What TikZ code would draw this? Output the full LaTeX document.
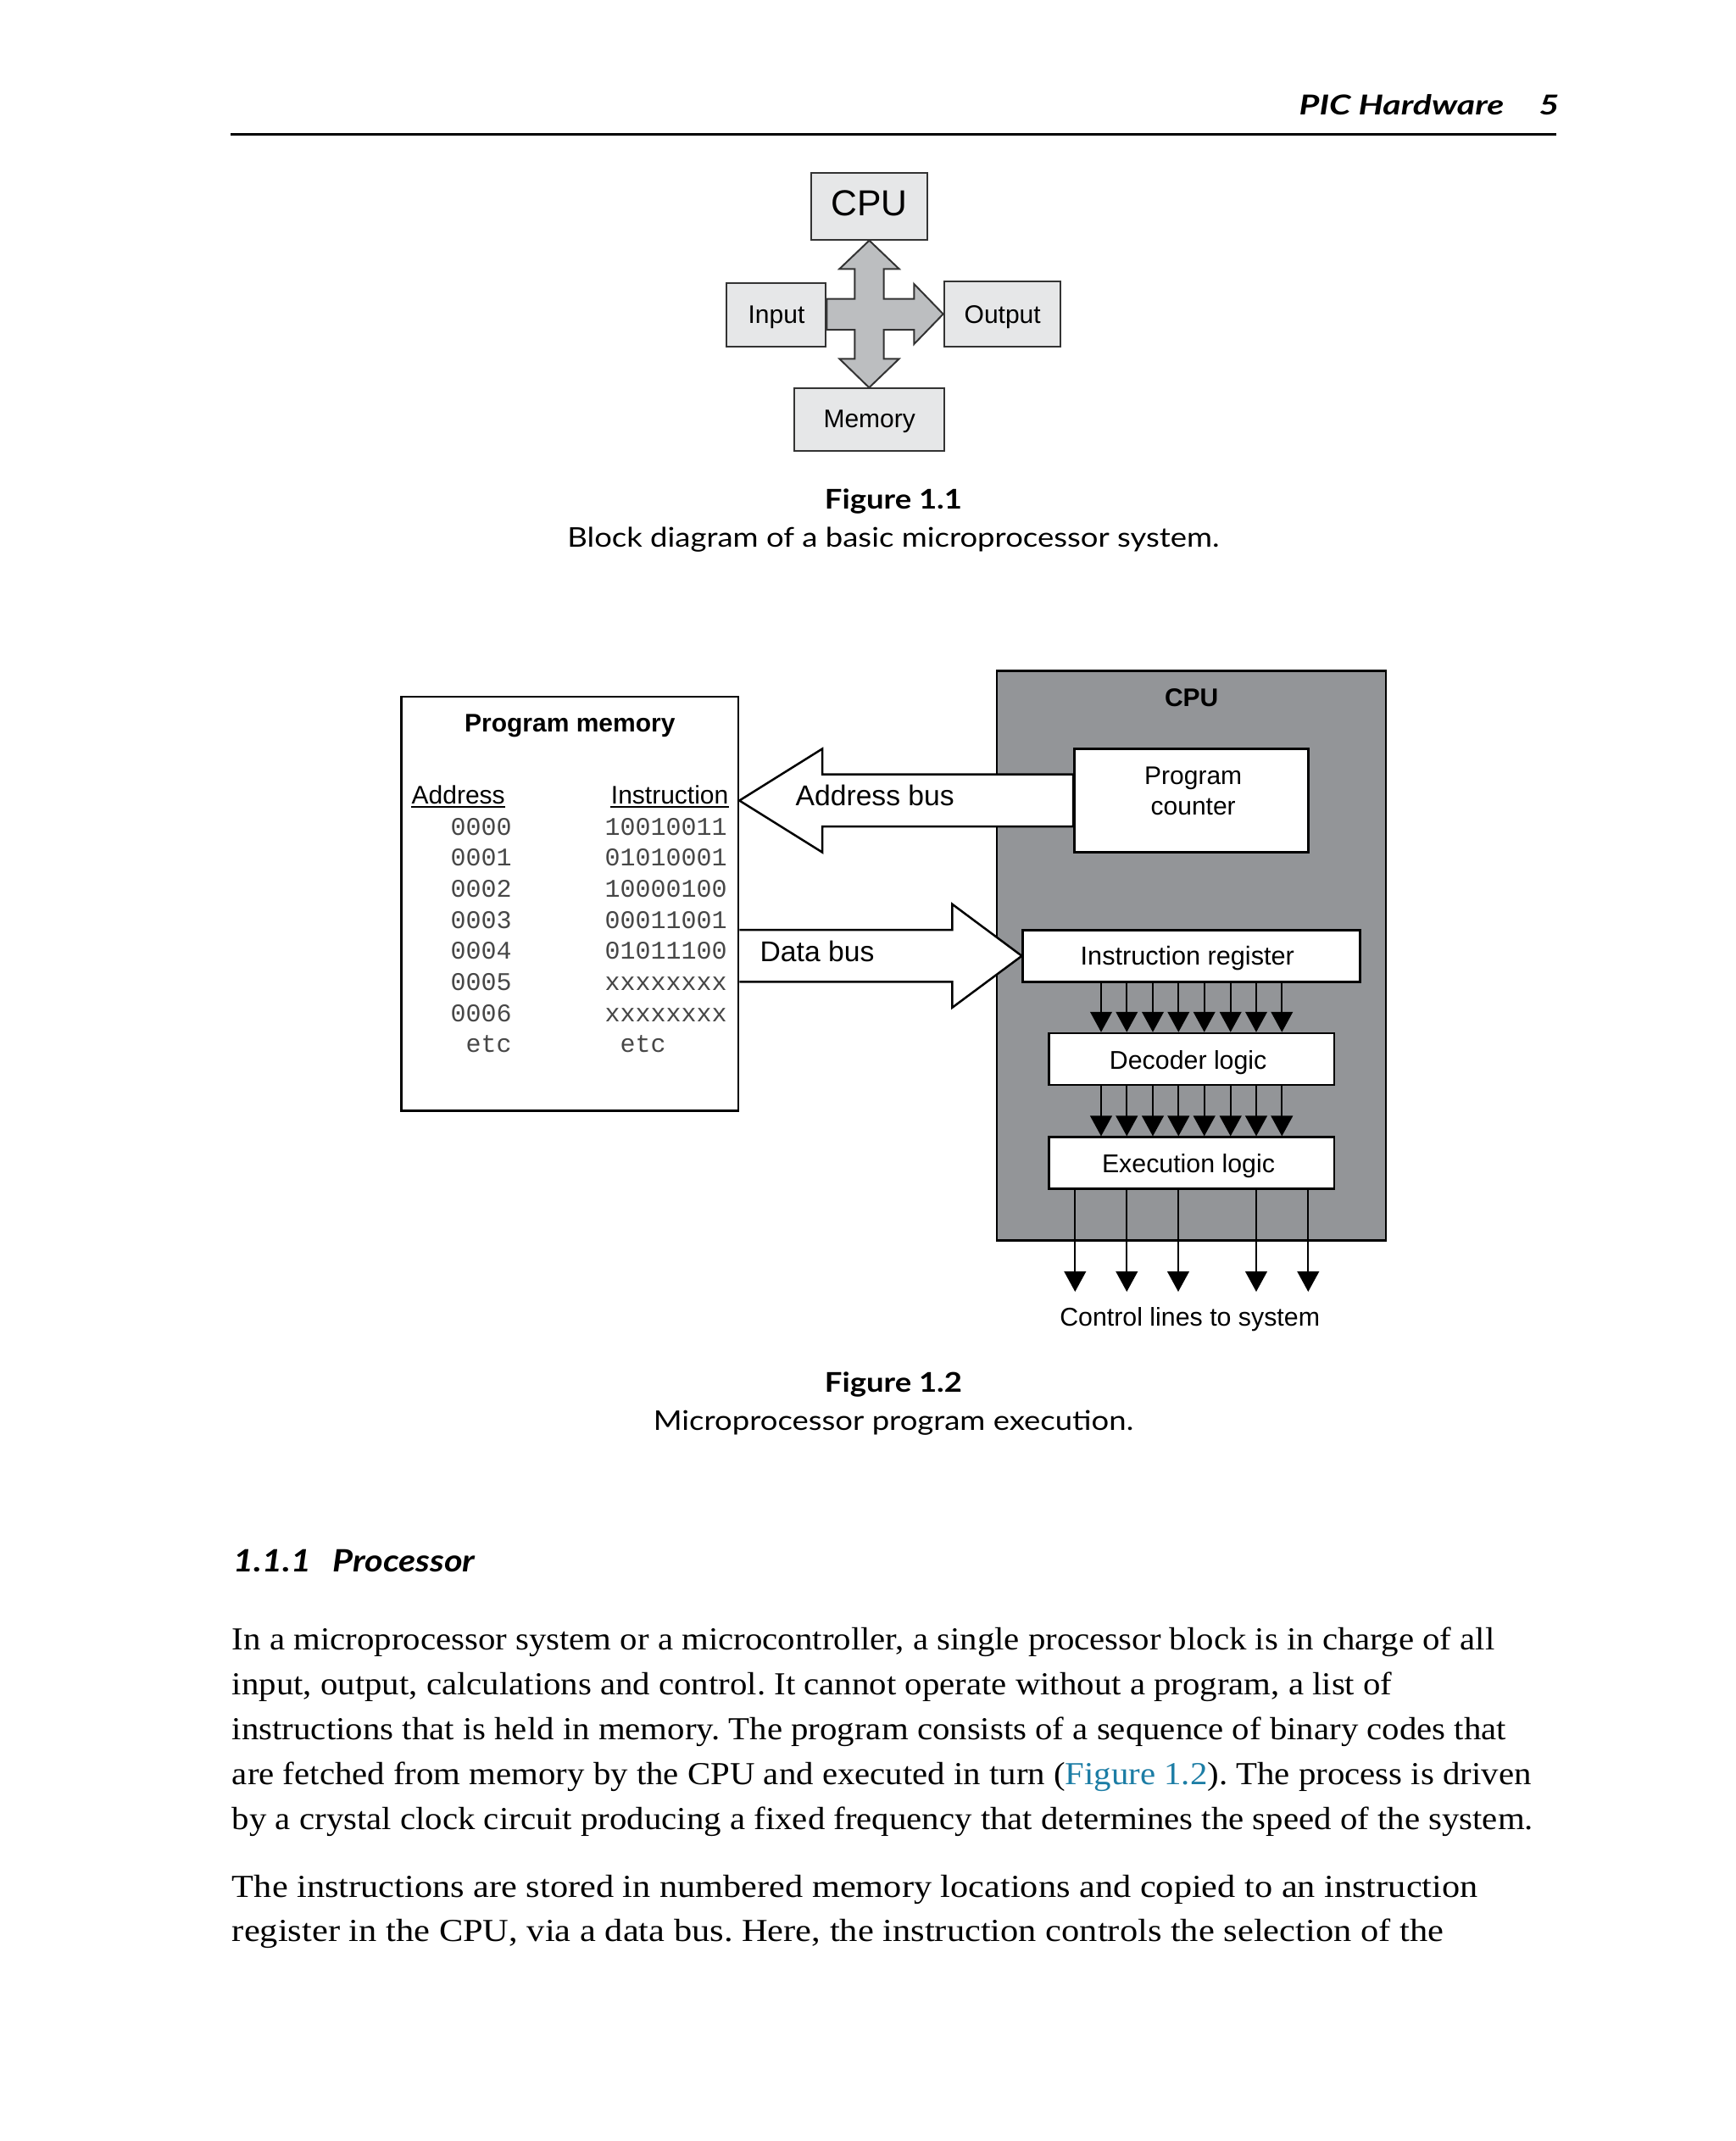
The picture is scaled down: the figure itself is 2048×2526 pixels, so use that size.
\documentclass[tikz,border=0pt]{standalone}
\usepackage{fontspec}
\usepackage{graphicx}
\setmainfont[FakeStretch=1.08]{Liberation Serif}
\newfontfamily\diag{Liberation Sans}
\newfontfamily\monof{Liberation Mono}
\newfontfamily\gill[FakeStretch=1.14]{Lato}
\newfontfamily\gillhdr[FakeStretch=1.27]{Lato}
\usetikzlibrary{arrows.meta,calc}
\definecolor{boxgray}{HTML}{E6E7E8}
\definecolor{crossgray}{HTML}{BCBEC0}
\definecolor{cpugray}{HTML}{939598}
\definecolor{linkblue}{RGB}{28,125,165}
\newcommand\myfs[1]{\fontsize{#1pt}{#1pt}\selectfont}
\newcommand\pxu{0.3pt}
\frenchspacing
\begin{document}
\begin{tikzpicture}[x=0.3pt,y=-0.3pt,
  lbl/.style={inner sep=0pt, font=\diag\myfs{9}},
  buslbl/.style={inner sep=0pt, anchor=base west, font=\diag\myfs{10.1}},
  f1box/.style={draw=black!80, fill=boxgray, line width=0.6pt, inner sep=0pt},
  f2box/.style={draw=black, fill=white, line width=0.75pt, inner sep=0pt},
  busarrow/.style={draw=black, fill=white, line width=0.75pt, line join=miter},
  sig/.style={line width=0.6pt, -{Triangle[length=7.2pt,width=7.7pt]}},
  mono/.style={inner sep=0pt, anchor=base west, text=black!72, font=\monof\myfs{9}},
  body/.style={inner sep=0pt, anchor=base west, font=\myfs{11.34}},
  ]
\useasboundingbox (0,0) rectangle (2048,2526);
\fill[white] (0,0) rectangle (2048,2526);

% header
\node[inner sep=0pt, anchor=base west, font=\gillhdr\bfseries\itshape\myfs{9.7}] (hdr) at (1532,135.7) {PIC Hardware};
\node[inner sep=0pt, anchor=base west, font=\gillhdr\bfseries\itshape\myfs{9.7}] (pgno) at (1815,135.7) {5};
\draw[line width=0.85pt] (272,158.5) -- (1836,158.5);

% Figure 1.1
\node[f1box, minimum width=137.6*\pxu, minimum height=78.4*\pxu] (cpu1) at (1025.5,243.5) {};
\node[f1box, minimum width=117.6*\pxu, minimum height=75*\pxu] (in1) at (915.5,371.5) {};
\node[f1box, minimum width=137.6*\pxu, minimum height=77*\pxu] (out1) at (1182.5,370.5) {};
\node[f1box, minimum width=176.7*\pxu, minimum height=73.4*\pxu] (mem1) at (1025.3,495) {};
\filldraw[fill=crossgray, draw=black!80, line width=0.6pt, line join=miter]
  (cpu1.south) -- (1060.7,317.3) -- (1042.7,317.3) -- (1042.7,352.7) -- (1078.3,352.7)
  -- (1078.3,335) -- (out1.west) -- (1078.3,406) -- (1078.3,389) -- (1042.7,389)
  -- (1042.7,423.3) -- (1060.7,423.3) -- (mem1.north) -- (990.3,423.3) -- (1008.3,423.3)
  -- (1008.3,389) -- (in1.east |- 0,389) -- (in1.east |- 0,352.7) -- (1008.3,352.7)
  -- (1008.3,317.3) -- (990.3,317.3) -- cycle;
\node[lbl, anchor=base, font=\diag\myfs{12.8}] (cpu1t) at (1025.7,254) {CPU};
\node[lbl, anchor=base] (in1t) at (916,381) {Input};
\node[lbl, anchor=base] (out1t) at (1182.7,381) {Output};
\node[lbl, anchor=base] (mem1t) at (1025.7,504.3) {Memory};

\node[inner sep=0pt, anchor=base, font=\gill\bfseries\myfs{9.6}] (cap1a) at (1054,600) {Figure 1.1};
\node[inner sep=0pt, anchor=base, font=\gill\myfs{9.6}] (cap1b) at (1054,645) {Block diagram of a basic microprocessor system.};

% Figure 1.2
\node[f2box, minimum width=397.7*\pxu, minimum height=488.7*\pxu] (pm) at (672.2,1066.3) {};
\node[draw=black, fill=cpugray, line width=0.75pt, inner sep=0pt, minimum width=459*\pxu, minimum height=671.6*\pxu] (cpu) at (1405.5,1127.5) {};
\node[f2box, minimum width=276*\pxu, minimum height=122.4*\pxu] (pc) at (1405.3,944.5) {};
\node[f2box, minimum width=397.6*\pxu, minimum height=61*\pxu] (ir) at (1405.5,1127.8) {};
\filldraw[busarrow] (pm.east |- pc.west) -- (970,883.5) -- (970,913.5) -- (pc.west |- 0,913.5)
  -- (pc.west |- 0,975) -- (970,975) -- (970,1005.5) -- cycle;
\filldraw[busarrow] (pm.east |- 0,1097) -- (1123.3,1097) -- (1123.3,1066.7) -- (ir.west)
  -- (1123.3,1188.8) -- (1123.3,1158.3) -- (pm.east |- 0,1158.3);
\node[f2box, minimum width=336.7*\pxu, minimum height=61*\pxu] (dec) at (1405.7,1249.5) {};
\node[f2box, minimum width=336.7*\pxu, minimum height=61*\pxu] (exe) at (1405.7,1372.2) {};

\node[lbl, anchor=base, font=\diag\bfseries\myfs{9}] (cput) at (1405.7,833.3) {CPU};
\node[lbl, anchor=base] (pct1) at (1407.7,925) {Program};
\node[lbl, anchor=base] (pct2) at (1407.7,961.7) {counter};
\node[lbl, anchor=base, font=\diag\myfs{9.2}] (irt) at (1400.8,1138.3) {Instruction register};
\node[lbl, anchor=base, font=\diag\myfs{9.1}] (dect) at (1401.7,1261) {Decoder logic};
\node[lbl, anchor=base, font=\diag\myfs{9.1}] (exet) at (1402,1383.3) {Execution logic};
\node[buslbl] (abus) at (938,950.7) {Address bus};
\node[buslbl] (dbus) at (896,1134) {Data bus};

\foreach \xx [count=\i] in {1299,1329.3,1360,1390.3,1420.7,1451.7,1482,1512.3} {
  \coordinate (col\i) at (\xx,0);
  \draw[sig] (ir.south -| col\i) -- (dec.north -| col\i);
  \draw[sig] (dec.south -| col\i) -- (exe.north -| col\i);
}
\foreach \xx [count=\i] in {1268.3,1329.3,1390,1482,1543.3} {
  \coordinate (ctl\i) at (\xx,1524);
  \draw[sig] (exe.south -| ctl\i) -- (ctl\i);
}
\node[lbl, anchor=base, font=\diag\myfs{9.1}] (ctlt) at (1403.7,1564) {Control lines to system};

\node[lbl, anchor=base, font=\diag\bfseries\myfs{9}] (pmt) at (672.3,863.3) {Program memory};
\node[lbl, anchor=base west] (addrh) at (485,948.3) {Address};
\node[lbl, anchor=base east] (insth) at (860,948.3) {Instruction};
\draw[line width=0.6pt] ([yshift=-1.1pt]addrh.base west) -- ([yshift=-1.1pt]addrh.base east);
\draw[line width=0.6pt] ([yshift=-1.1pt]insth.base west) -- ([yshift=-1.1pt]insth.base east);
\foreach \aa/\ii [count=\k from 0] in {0000/10010011,0001/01010001,0002/10000100,0003/00011001,0004/01011100,0005/xxxxxxxx,0006/xxxxxxxx} {
  \node[mono] (a\k) at (531,985+36.67*\k) {\aa};
  \node[mono] (b\k) at (713,985+36.67*\k) {\ii};
}
\node[mono] (a7) at (531,1241.7) {\ etc};
\node[mono] (b7) at (713,1241.7) {\ etc};

\node[inner sep=0pt, anchor=base, font=\gill\bfseries\myfs{9.6}] (cap2a) at (1054,1642) {Figure 1.2};
\node[inner sep=0pt, anchor=base, font=\gill\myfs{9.6}] (cap2b) at (1054,1687) {Microprocessor program execution.};

% section
\node[inner sep=0pt, anchor=base west, font=\gill\bfseries\itshape\myfs{10.9}] (secn) at (275,1854.3) {1.1.1};
\node[inner sep=0pt, anchor=base west, font=\gill\bfseries\itshape\myfs{10.9}] (sect) at (391.7,1854.3) {Processor};

\node[body] (l1) at (273.3,1946.7) {In a microprocessor system or a microcontroller, a single processor block is in charge of all};
\node[body] (l2) at (273.3,1999.6) {input, output, calculations and control. It cannot operate without a program, a list of};
\node[body] (l3) at (273.3,2052.5) {instructions that is held in memory. The program consists of a sequence of binary codes that};
\node[body] (l4) at (273.3,2105.4) {are fetched from memory by the CPU and executed in turn (\textcolor{linkblue}{Figure 1.2}). The process is driven};
\node[body] (l5) at (273.3,2158.3) {by a crystal clock circuit producing a fixed frequency that determines the speed of the system.};
\node[body] (l6) at (273.3,2238.3) {\scalebox{1.037}[1]{The instructions are stored in numbered memory locations and copied to an instruction}};
\node[body] (l7) at (273.3,2290.5) {\scalebox{1.04}[1]{register in the CPU, via a data bus. Here, the instruction controls the selection of the}};
\end{tikzpicture}
\end{document}
